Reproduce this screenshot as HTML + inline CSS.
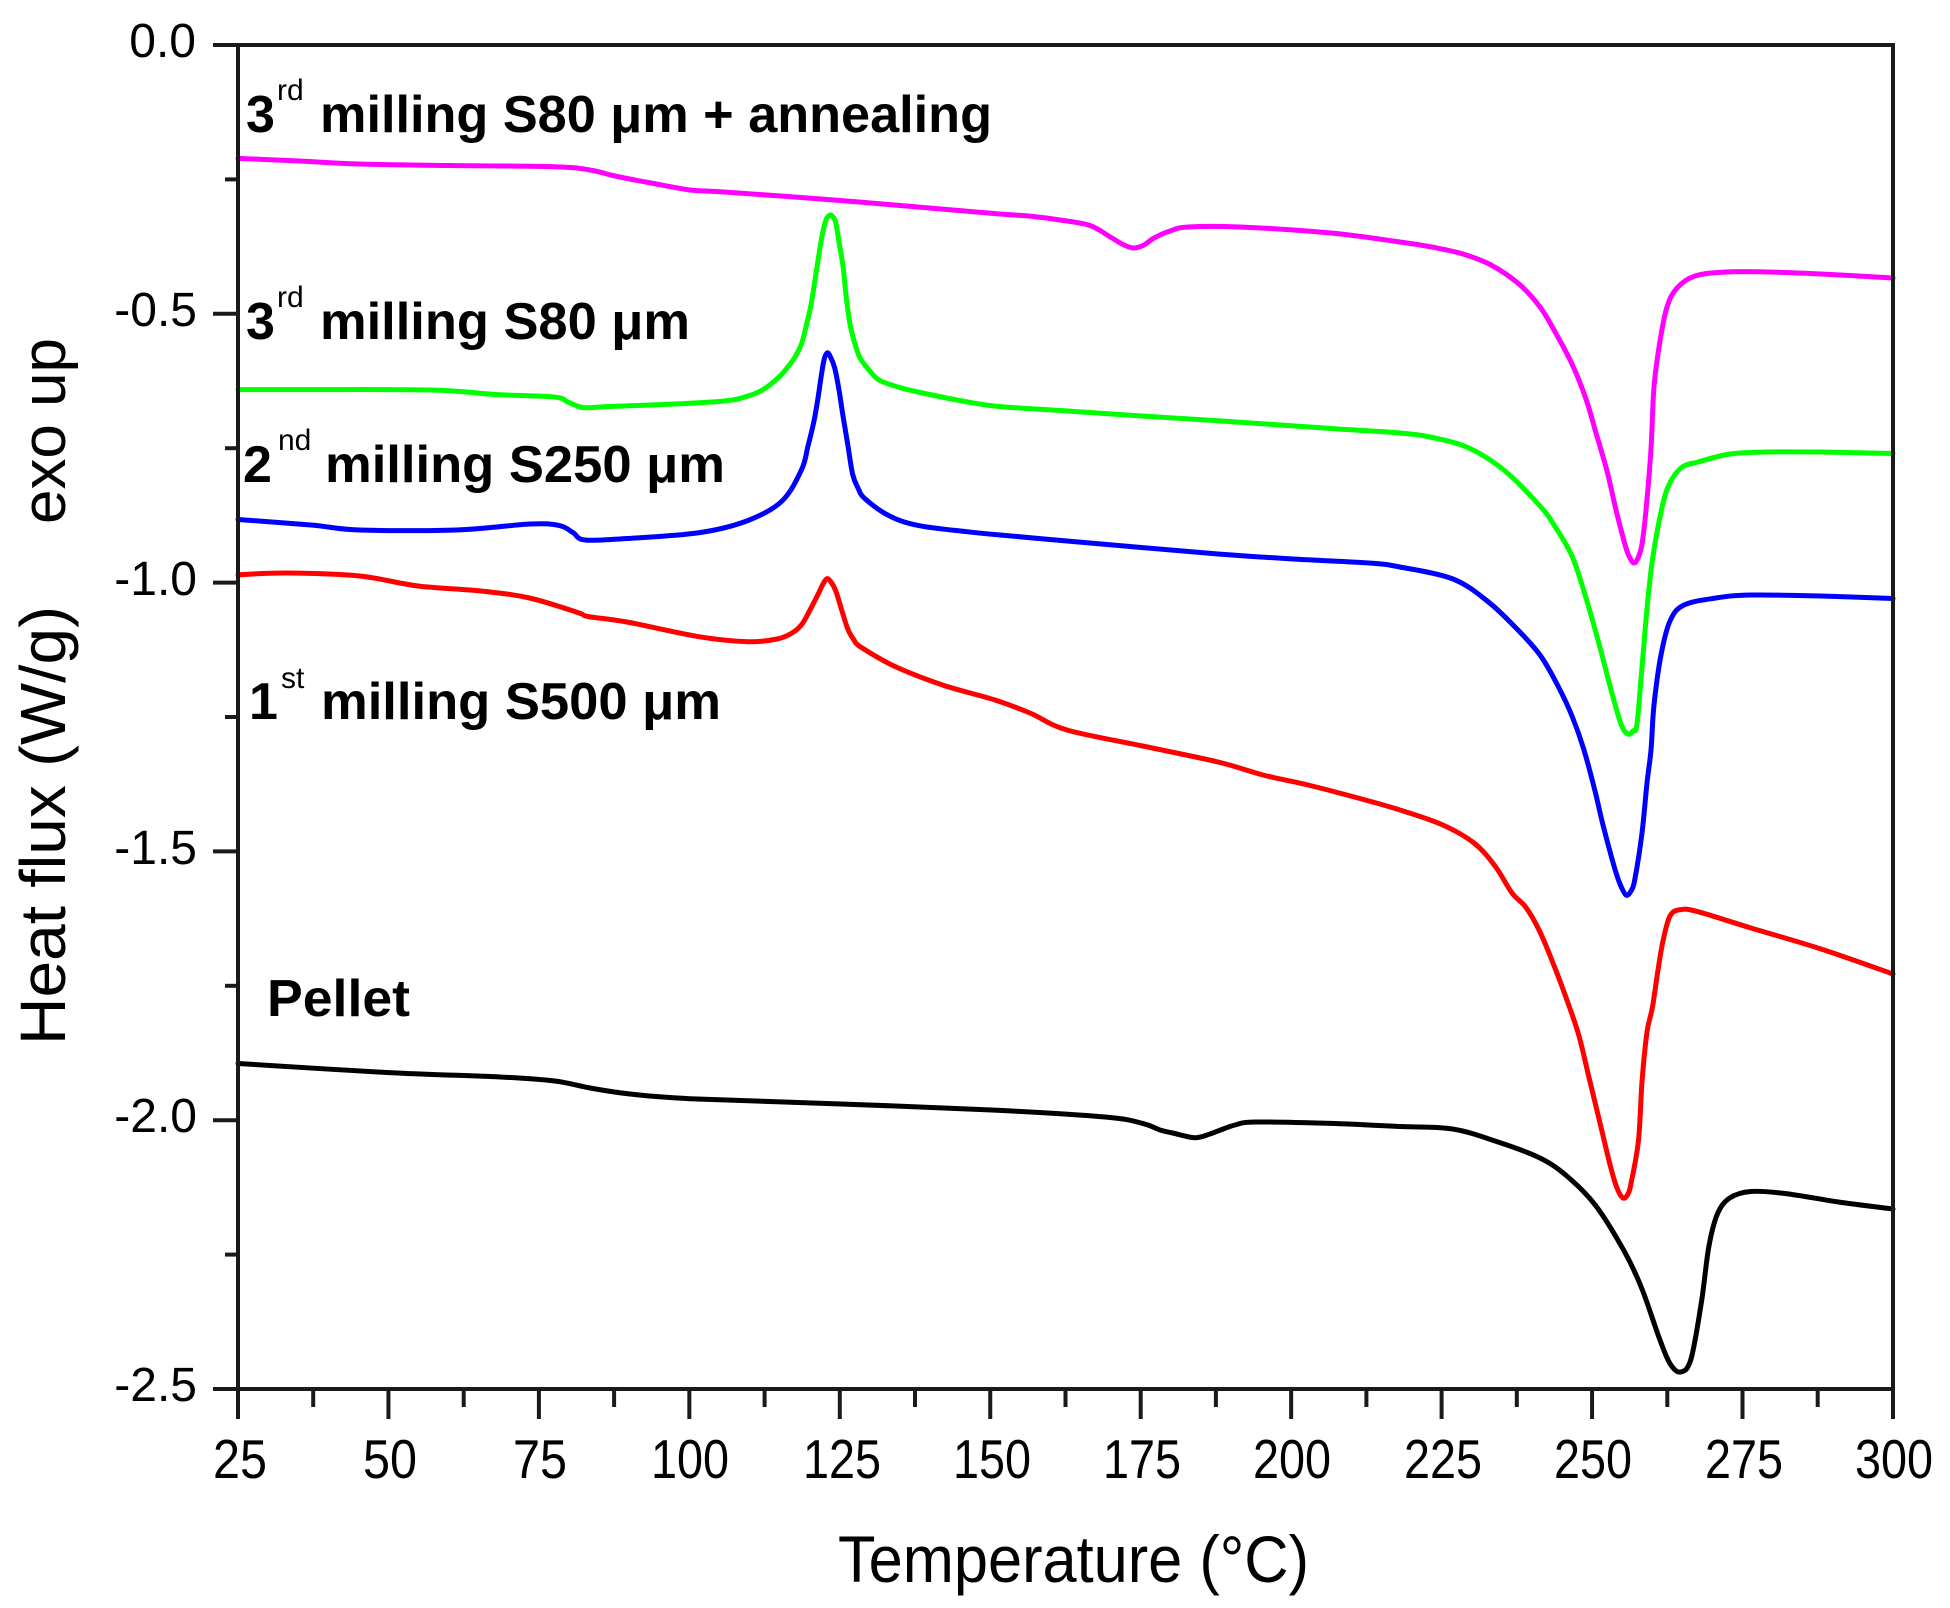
<!DOCTYPE html>
<html>
<head>
<meta charset="utf-8">
<style>
  html, body { margin: 0; padding: 0; background: #ffffff; }
  svg { display: block; }
  text { font-family: "Liberation Sans", Arial, sans-serif; fill: #000; }
  .ann { font-weight: bold; font-size: 52px; }
  .sup { font-weight: normal; font-size: 30px; }
  .yt { font-size: 48px; text-anchor: end; }
  .xt { font-size: 55px; text-anchor: middle; }
  .curve { fill: none; stroke-width: 5; stroke-linejoin: round; stroke-linecap: round; }
</style>
</head>
<body>
<svg id="chart" width="1950" height="1608" viewBox="0 0 1950 1608" xmlns="http://www.w3.org/2000/svg">
  <rect x="0" y="0" width="1950" height="1608" fill="#ffffff"/>

  <!-- Curves -->
  <polyline class="curve" stroke="#ff00ff" points="
    238,158.4 300,161 359,164 450,165.5 554,166.7 590,170 615,176 651,183 690,190 724,192 821,199 918,207 1000,214
    1029,216 1060,220 1090,225.5 1112,238 1124,245 1134,248 1144,245 1154,238 1170,231 1188,227 1240,227 1331,233
    1400,242 1435,247.6 1463,254 1491,265 1519,284 1540,307 1554,330 1572,364 1586,399 1596,433 1607,471 1617,514
    1626,548 1630,558 1634,563 1638,558 1642,544 1646,510 1651,449 1654,387 1660,341 1667,307 1677,288 1695,276
    1726,272 1768,272 1821,274 1893,278"/>

  <polyline class="curve" stroke="#00ff00" points="
    238,389.6 300,389.6 432,390 495,394.5 554,397 568,402 583,407.6 607,406.6 675,404 724,401 745,397 763,389.6
    778,378 787,368 795,357 801.6,343.6 806,327 811,305 815,280 818.7,256 822,236 826,220 830,215 833,217 835.7,222.4
    839,242 843,266 846,295 850,324 855,344 860,358 869,370 879,380 898,387 918,392 967,401.8 1000,406.6 1067,411
    1142,416 1218,420.7 1331,428.5 1400,433 1435,438 1470,448.5 1505,471 1540,506 1554,525 1572,556 1586,598
    1600,647.5 1610,686 1621,724 1628,734 1633,731 1637,724 1642,667 1647,609 1652,563 1660,517 1668,487 1681,468
    1698,462 1730,454 1768,452 1821,452 1893,453.5"/>

  <polyline class="curve" stroke="#0000ff" points="
    238,519.5 311,525 359.5,530 456.7,530 529.5,524 559,525.4 573,532.6 585,540 627,538.5 699.6,532.6 748,520.5
    782,501 801.6,469.6 808,446 814,421 818,398 821,377.5 824,360 827,353 830,356 834.7,368 839,390 843,416 848,446
    852.7,474.5 858,488 865,498.7 889,515.7 918,525.4 967,531.7 1000,535 1067,541 1142.6,547.6 1218,554 1293,559
    1369,563 1400,567 1453,579 1488,601.6 1516,628 1540,655 1558,686 1572,716 1584,750 1595,791 1603,825 1614,866
    1620,884 1626,895 1631,891 1635,878.5 1642,833 1647,783 1651,750 1654,705 1661,655 1670,621 1684,605 1716,598
    1751,595 1821,596 1893,598.5"/>

  <polyline class="curve" stroke="#ff0000" points="
    238,574.8 286.6,573 359.5,576 418,586 481,591 529.5,598 578,612.6 588,616.5 627,622 699.6,636.8 748,641.7
    777,639 792,633 801.6,624.7 810,610 818.7,593 823,584 827,578.7 831,582 835.7,590.8 842,611 848,629.6 854,640
    860,646.6 894,666 942.6,685 995,700 1030,713 1067,730 1142.6,746 1218,762 1263,775 1308,785 1369,801 1400,810
    1442,824.6 1474,843 1495,866 1512,893 1526,907.5 1540,932 1554,965.6 1568,1003 1579,1036 1589,1077.5 1600,1123
    1610,1164.6 1617,1188 1623,1198 1628,1194 1631.5,1181 1638.5,1140 1642,1082 1647,1032 1652.5,1007 1658,970
    1663,941 1670,916 1680.6,909.6 1698,911.7 1751,928 1821,949 1893,974"/>

  <polyline class="curve" stroke="#000000" points="
    238,1063.5 388.8,1072.6 500,1077 554.6,1081 590,1088 630,1094 690,1098.7 841,1104 991.8,1110 1105,1117
    1142.6,1123.4 1160,1130 1172.7,1133 1195,1137.7 1210,1134 1218,1131 1235,1125 1255.6,1122 1331,1123.4
    1400,1126.5 1452.6,1129 1498,1142 1540,1158 1568,1177 1596,1206 1624.5,1251.7 1642,1289 1659.6,1339
    1670,1363.6 1680.6,1372 1691,1359 1701.6,1301 1708.7,1247.5 1717.4,1214 1729.7,1198 1750.7,1191.5
    1785.8,1193.6 1838.4,1202 1893,1209"/>

  <!-- Frame -->
  <rect x="238" y="45" width="1655" height="1344" fill="none" stroke="#1a1a1a" stroke-width="4"/>

  <!-- Y ticks -->
  <g stroke="#1a1a1a" stroke-width="4">
    <line x1="213" y1="45" x2="238" y2="45"/>
    <line x1="213" y1="313.8" x2="238" y2="313.8"/>
    <line x1="213" y1="582.6" x2="238" y2="582.6"/>
    <line x1="213" y1="851.4" x2="238" y2="851.4"/>
    <line x1="213" y1="1120.2" x2="238" y2="1120.2"/>
    <line x1="213" y1="1389" x2="238" y2="1389"/>
    <line x1="225" y1="179.4" x2="238" y2="179.4"/>
    <line x1="225" y1="448.2" x2="238" y2="448.2"/>
    <line x1="225" y1="717" x2="238" y2="717"/>
    <line x1="225" y1="985.8" x2="238" y2="985.8"/>
    <line x1="225" y1="1254.6" x2="238" y2="1254.6"/>
  </g>

  <!-- X ticks -->
  <g stroke="#1a1a1a" stroke-width="4">
    <line x1="238" y1="1389" x2="238" y2="1419"/>
    <line x1="388.45" y1="1389" x2="388.45" y2="1419"/>
    <line x1="538.9" y1="1389" x2="538.9" y2="1419"/>
    <line x1="689.35" y1="1389" x2="689.35" y2="1419"/>
    <line x1="839.8" y1="1389" x2="839.8" y2="1419"/>
    <line x1="990.25" y1="1389" x2="990.25" y2="1419"/>
    <line x1="1140.7" y1="1389" x2="1140.7" y2="1419"/>
    <line x1="1291.15" y1="1389" x2="1291.15" y2="1419"/>
    <line x1="1441.6" y1="1389" x2="1441.6" y2="1419"/>
    <line x1="1592.05" y1="1389" x2="1592.05" y2="1419"/>
    <line x1="1742.5" y1="1389" x2="1742.5" y2="1419"/>
    <line x1="1893" y1="1389" x2="1893" y2="1419"/>
    <line x1="313.2" y1="1389" x2="313.2" y2="1407"/>
    <line x1="463.7" y1="1389" x2="463.7" y2="1407"/>
    <line x1="614.1" y1="1389" x2="614.1" y2="1407"/>
    <line x1="764.6" y1="1389" x2="764.6" y2="1407"/>
    <line x1="915.0" y1="1389" x2="915.0" y2="1407"/>
    <line x1="1065.5" y1="1389" x2="1065.5" y2="1407"/>
    <line x1="1215.9" y1="1389" x2="1215.9" y2="1407"/>
    <line x1="1366.4" y1="1389" x2="1366.4" y2="1407"/>
    <line x1="1516.8" y1="1389" x2="1516.8" y2="1407"/>
    <line x1="1667.3" y1="1389" x2="1667.3" y2="1407"/>
    <line x1="1817.7" y1="1389" x2="1817.7" y2="1407"/>
  </g>

  <!-- Y tick labels -->
  <text class="yt" x="196" y="57">0.0</text>
  <text class="yt" x="197" y="326">-0.5</text>
  <text class="yt" x="197" y="595">-1.0</text>
  <text class="yt" x="197" y="864">-1.5</text>
  <text class="yt" x="197" y="1132">-2.0</text>
  <text class="yt" x="197" y="1401">-2.5</text>

  <!-- X tick labels -->
  <text class="xt" x="240" y="1478" textLength="54" lengthAdjust="spacingAndGlyphs">25</text>
  <text class="xt" x="390" y="1478" textLength="54" lengthAdjust="spacingAndGlyphs">50</text>
  <text class="xt" x="540" y="1478" textLength="54" lengthAdjust="spacingAndGlyphs">75</text>
  <text class="xt" x="690" y="1478" textLength="78" lengthAdjust="spacingAndGlyphs">100</text>
  <text class="xt" x="842" y="1478" textLength="78" lengthAdjust="spacingAndGlyphs">125</text>
  <text class="xt" x="992" y="1478" textLength="78" lengthAdjust="spacingAndGlyphs">150</text>
  <text class="xt" x="1142" y="1478" textLength="78" lengthAdjust="spacingAndGlyphs">175</text>
  <text class="xt" x="1292" y="1478" textLength="78" lengthAdjust="spacingAndGlyphs">200</text>
  <text class="xt" x="1443" y="1478" textLength="78" lengthAdjust="spacingAndGlyphs">225</text>
  <text class="xt" x="1593" y="1478" textLength="78" lengthAdjust="spacingAndGlyphs">250</text>
  <text class="xt" x="1744" y="1478" textLength="78" lengthAdjust="spacingAndGlyphs">275</text>
  <text class="xt" x="1894" y="1478" textLength="78" lengthAdjust="spacingAndGlyphs">300</text>

  <!-- Axis titles -->
  <text x="838" y="1582" font-size="66" textLength="471" lengthAdjust="spacingAndGlyphs">Temperature (°C)</text>
  <text transform="translate(65,1045) rotate(-90)" font-size="64" textLength="439" lengthAdjust="spacingAndGlyphs">Heat flux (W/g)</text>
  <text transform="translate(65,524) rotate(-90)" font-size="62" textLength="186" lengthAdjust="spacingAndGlyphs">exo up</text>

  <!-- Annotations -->
  <text class="ann" x="246" y="132">3</text>
  <text class="sup" x="277" y="100">rd</text>
  <text class="ann" x="320" y="132" textLength="672" lengthAdjust="spacingAndGlyphs">milling S80 μm + annealing</text>

  <text class="ann" x="246" y="339">3</text>
  <text class="sup" x="277" y="307">rd</text>
  <text class="ann" x="320" y="339" textLength="370" lengthAdjust="spacingAndGlyphs">milling S80 μm</text>

  <text class="ann" x="243" y="482">2</text>
  <text class="sup" x="278" y="450">nd</text>
  <text class="ann" x="325" y="482" textLength="400" lengthAdjust="spacingAndGlyphs">milling S250 μm</text>

  <text class="ann" x="249" y="719">1</text>
  <text class="sup" x="281" y="688">st</text>
  <text class="ann" x="321" y="719" textLength="400" lengthAdjust="spacingAndGlyphs">milling S500 μm</text>

  <text class="ann" x="267" y="1016" textLength="143" lengthAdjust="spacingAndGlyphs">Pellet</text>
</svg>
<script>
(function () {
  try {
    var NS = "http://www.w3.org/2000/svg";
    var pls = document.querySelectorAll("polyline.curve");
    for (var i = 0; i < pls.length; i++) {
      var pl = pls[i];
      var raw = pl.getAttribute("points").trim().split(/\s+/);
      var p = [];
      for (var j = 0; j < raw.length; j++) {
        var xy = raw[j].split(",");
        if (xy.length === 2) p.push([parseFloat(xy[0]), parseFloat(xy[1])]);
      }
      if (p.length < 3) continue;
      var d = "M" + p[0][0] + "," + p[0][1];
      var t = 0.5 / 3;
      for (var k = 0; k < p.length - 1; k++) {
        var p0 = p[k > 0 ? k - 1 : 0], p1 = p[k], p2 = p[k + 1], p3 = p[k + 2 < p.length ? k + 2 : p.length - 1];
        var c1x = p1[0] + (p2[0] - p0[0]) * t, c1y = p1[1] + (p2[1] - p0[1]) * t;
        var c2x = p2[0] - (p3[0] - p1[0]) * t, c2y = p2[1] - (p3[1] - p1[1]) * t;
        // keep control points within segment x-range to avoid overshoot loops
        var lo = Math.min(p1[0], p2[0]), hi = Math.max(p1[0], p2[0]);
        c1x = Math.max(lo, Math.min(hi, c1x));
        c2x = Math.max(lo, Math.min(hi, c2x));
        d += " C" + c1x.toFixed(1) + "," + c1y.toFixed(1) + " " + c2x.toFixed(1) + "," + c2y.toFixed(1) + " " + p2[0] + "," + p2[1];
      }
      var path = document.createElementNS(NS, "path");
      path.setAttribute("d", d);
      path.setAttribute("class", "curve");
      path.setAttribute("stroke", pl.getAttribute("stroke"));
      pl.parentNode.replaceChild(path, pl);
    }
  } catch (e) {}
})();
</script>
</body>
</html>
